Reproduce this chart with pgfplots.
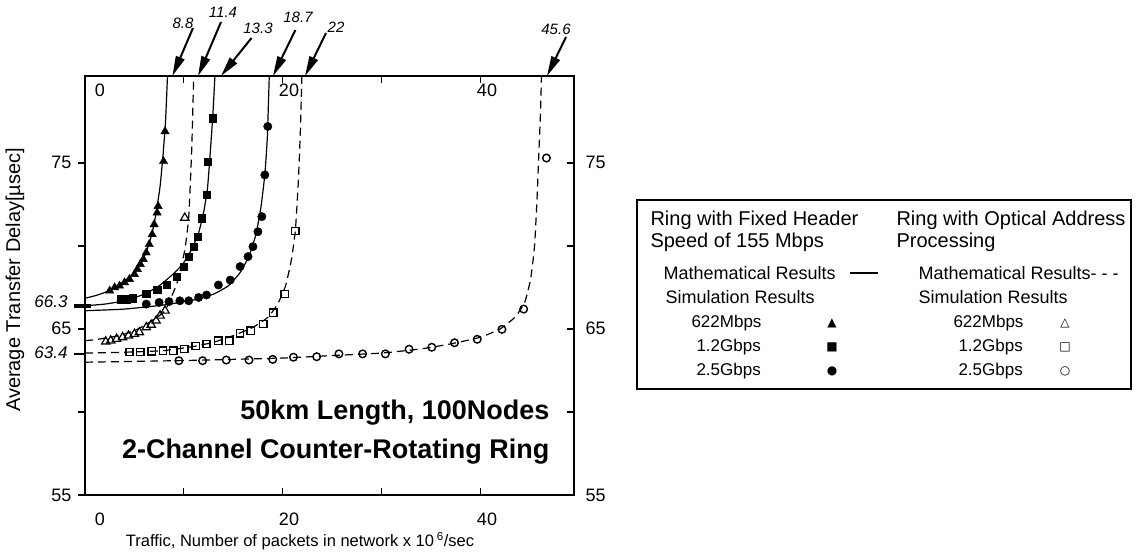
\documentclass[border=0pt]{standalone}
\usepackage{fontspec}
\setmainfont{Liberation Sans}
\newfontfamily\sym{DejaVu Sans}
\usepackage{pgfplots}
\pgfplotsset{compat=1.18}
\usetikzlibrary{arrows.meta}
\newcommand\fs[1]{\fontsize{#1}{#1}\selectfont}

% ---- data ----
% mathematical results, fixed header (solid)
\pgfplotstableread{
x y
0 66.85
1 67.0
2 67.2
3 67.5
4 67.9
5 68.4
5.7 69.0
6.3 69.8
6.8 70.8
7.2 72.0
7.6 73.6
7.9 75.5
8.15 77.5
8.35 80.25
}\mathA
\pgfplotstableread{
x y
0 66.4
2 66.5
4 66.7
6 67.1
7.5 67.6
9 68.35
10 69.0
10.8 69.8
11.5 70.8
12.0 72.0
12.4 73.5
12.7 75.8
12.95 78
13.15 80.25
}\mathC
\pgfplotstableread{
x y
0 66.1
4 66.2
8 66.45
11 66.75
13 67.1
14.5 67.6
15.7 68.4
16.6 69.4
17.3 70.7
17.8 72.3
18.2 74.3
18.45 76.5
18.65 80.25
}\mathD
% mathematical results, optical address (dashed)
\pgfplotstableread{
x y
0 64.3
1 64.35
2 64.45
3 64.55
4 64.7
5 64.9
6 65.2
7 65.6
8.1 66.1
9.3 67.75
10.1 69.76
10.5 71.77
10.8 75.8
11.0 80.25
}\mathB
\pgfplotstableread{
x y
0 63.55
4 63.6
8 63.7
11 63.95
13 64.2
15 64.6
17 65.1
18.5 65.7
19.5 66.5
20.3 67.6
20.9 69.2
21.3 71.0
21.6 74
21.8 77
21.95 80.25
}\mathE
\pgfplotstableread{
x y
0 63.0
10 63.1
20 63.25
25 63.4
30 63.55
34 63.8
37 64.1
40 64.5
42 65.0
43.5 65.7
44.5 66.6
45.1 68.0
45.5 70.0
45.75 72.8
45.95 75.8
46.1 78
46.2 80.25
}\mathF
% simulation results
\pgfplotstableread{
x y
2.5 67.3
3.0 67.5
3.5 67.6
4.0 67.8
4.5 68.0
5.0 68.3
5.3 68.6
5.6 68.9
5.9 69.2
6.2 69.6
6.5 70.1
6.8 70.7
7.0 71.3
7.3 72.0
7.4 72.4
7.95 75.1
8.1 76.9
}\simTriFix
\pgfplotstableread{
x y
3.6 66.8
4.2 66.8
4.8 66.85
6.2 67.15
7.3 67.35
8.3 67.65
9.3 68.15
10.0 68.76
10.5 69.36
11.0 69.96
11.4 70.56
11.8 71.67
12.3 73.08
12.4 75.1
12.9 77.7
}\simSqFix
\pgfplotstableread{
x y
6.2 66.5
7.5 66.6
8.5 66.65
9.6 66.7
10.5 66.7
11.5 66.9
12.3 67.05
13.5 67.65
14.7 67.95
15.7 68.76
16.5 69.36
17.0 69.96
17.5 70.86
17.9 71.77
18.2 74.28
18.5 77.2
}\simCircFix
\pgfplotstableread{
x y
2.1 64.24
2.6 64.3
3.2 64.4
3.8 64.5
4.4 64.6
5.0 64.7
5.5 64.8
6.2 65.1
6.7 65.25
7.2 65.5
7.6 65.8
8.1 66.1
10.1 71.7
}\simTriOpt
\pgfplotstableread{
x y
4.5 63.6
5.6 63.6
6.75 63.65
7.9 63.7
8.95 63.7
10.05 63.8
11.2 63.98
12.3 64.1
13.5 64.3
14.6 64.3
15.7 64.74
16.77 64.9
18.05 65.3
19.06 65.99
20.2 67.11
21.3 70.9
}\simSqOpt
\pgfplotstableread{
x y
9.5 63.09
11.9 63.09
14.3 63.13
16.6 63.13
19.0 63.17
21.1 63.3
23.45 63.33
25.7 63.5
28.1 63.5
30.4 63.5
32.8 63.78
35.1 63.9
37.4 64.17
39.7 64.38
42.2 64.98
44.4 66.2
46.7 75.3
}\simCircOpt

\begin{document}
\begin{tikzpicture}[x=1pt,y=1pt]
\useasboundingbox (0,0) rectangle (1141,552);

\begin{axis}[
  at={(85pt,57pt)}, anchor=south west,
  x=9.88pt, y=16.6pt,
  xmin=0, xmax=49.5, ymin=55, ymax=80.25,
  axis line style={line width=1.4pt},
  tick align=inside,
  xtick={0,10,20,30,40}, xticklabels={},
  xtick pos=both,
  ytick={55,60,65,70,75}, yticklabels={},
  ytick pos=right,
  major tick length=7pt,
  every tick/.append style={black, line width=1.2pt},
  mark options={solid},
]
\addplot[black, line width=1.2pt, smooth, tension=0.3] table {\mathA};
\addplot[black, line width=1.2pt, smooth, tension=0.3] table {\mathC};
\addplot[black, line width=1.2pt, smooth, tension=0.3] table {\mathD};
\addplot[black, line width=1.2pt, smooth, tension=0.3, dash pattern=on 8pt off 5pt] table {\mathB};
\addplot[black, line width=1.2pt, smooth, tension=0.3, dash pattern=on 8pt off 5pt] table {\mathE};
\addplot[black, line width=1.2pt, smooth, tension=0.3, dash pattern=on 8pt off 5pt] table {\mathF};
\addplot[only marks, mark=triangle*, mark size=4.8pt, black] table {\simTriFix};
\addplot[only marks, mark=square*, mark size=3.6pt, black] table {\simSqFix};
\addplot[only marks, mark=*, mark size=4.2pt, black] table {\simCircFix};
\addplot[only marks, mark=triangle, mark size=4.8pt, black, mark options={fill=white, line width=1.2pt}] table {\simTriOpt};
\addplot[only marks, mark=square, mark size=3.6pt, black, mark options={fill=white, line width=1.3pt}] table {\simSqOpt};
\addplot[only marks, mark=o, mark size=3.8pt, black, mark options={fill=white, line width=1.4pt}] table {\simCircOpt};
\end{axis}

% left axis ticks, pointing outward
\begin{axis}[
  at={(85pt,57pt)}, anchor=south west,
  x=9.88pt, y=16.6pt,
  xmin=0, xmax=49.5, ymin=55, ymax=80.25,
  axis x line=none, axis y line*=left,
  axis line style={-, line width=1.4pt},
  ytick={55,60,65,70,75}, yticklabels={},
  tick align=outside, major tick length=7pt,
  every tick/.append style={black, line width=1.2pt},
]
\addplot[draw=none] coordinates {(0,55)};
\end{axis}

% tick labels
\begin{scope}[font=\fs{18}]
\node at (100,33) {0};
\node at (289,33) {20};
\node at (487,33) {40};
\node at (100,462) {0};
\node at (289,462) {20};
\node at (487,462) {40};
\node[anchor=east] at (75,390) {75};
\node[anchor=east] at (75,224) {65};
\node[anchor=east] at (75,57) {55};
\node[anchor=west] at (582,390) {75};
\node[anchor=west] at (582,224) {65};
\node[anchor=west] at (582,57) {55};
\end{scope}
\node[rotate=90, font=\fs{20}] at (15,272) {Average Transfer Delay[µsec]};
\node[font=\fs{16.5}] at (300,11) {Traffic, Number of packets in network x 10\,\textsuperscript{6}/sec};
\node[anchor=east, font=\fs{17}\itshape] at (71,250) {66.3};
\node[anchor=east, font=\fs{17}\itshape] at (71,199) {63.4};
\draw[line width=4pt] (74,246) -- (91,246);
\draw[line width=2pt] (74,198) -- (86,198);

% annotations inside the plot
\node[anchor=east, font=\fs{27}\bfseries] at (553,139) {50km Length, 100Nodes};
\node[anchor=east, font=\fs{27}\bfseries] at (553,100) {2-Channel Counter-Rotating Ring};

% arrows to the asymptotes
\begin{scope}[line width=2pt, -{Stealth[length=20pt,width=9pt,inset=0pt]}]
\draw (193,524) -- (172.4,476);
\draw (221,530) -- (198,476);
\draw (251.5,514) -- (221,476);
\draw (295.4,522) -- (273,476);
\draw (326,519) -- (305,476);
\draw (566,515) -- (547,476);
\end{scope}
\begin{scope}[font=\fs{15}\itshape]
\node at (183,529) {8.8};
\node at (223,539.5) {11.4};
\node at (258,524) {13.3};
\node at (298,535) {18.7};
\node at (336,525) {22};
\node at (556,523) {45.6};
\end{scope}

% legend
\draw[line width=1.3pt] (637,352) rectangle (1131,163);
\begin{scope}[font=\fs{20}]
\node[anchor=west] at (647,332) {Ring with Fixed Header};
\node[anchor=west] at (647,310) {Speed of 155 Mbps};
\node[anchor=west] at (893,332) {Ring with Optical Address};
\node[anchor=west] at (893,310) {Processing};
\end{scope}
\begin{scope}[font=\fs{18}]
\node[anchor=west] at (660,279) {Mathematical Results};
\node[anchor=west] at (915,279) {Mathematical Results- - -};
\node[anchor=west] at (662,255) {Simulation Results};
\node[anchor=west] at (915,255) {Simulation Results};
\end{scope}
\draw[line width=1.3pt] (850,279) -- (878,279);
\begin{scope}[font=\fs{17}]
\node[anchor=west] at (688,229) {622Mbps};
\node[anchor=west] at (693,205) {1.2Gbps};
\node[anchor=west] at (693,181) {2.5Gbps};
\node[anchor=west] at (950,229) {622Mbps};
\node[anchor=west] at (955,205) {1.2Gbps};
\node[anchor=west] at (955,181) {2.5Gbps};
\end{scope}
\begin{scope}[font=\sym\fs{12}]
\node at (832,229) {▲};
\node at (832,205) {■};
\node at (832,181) {●};
\node at (1065,229) {△};
\node at (1065,205) {□};
\node at (1065,181) {○};
\end{scope}
\end{tikzpicture}
\end{document}
